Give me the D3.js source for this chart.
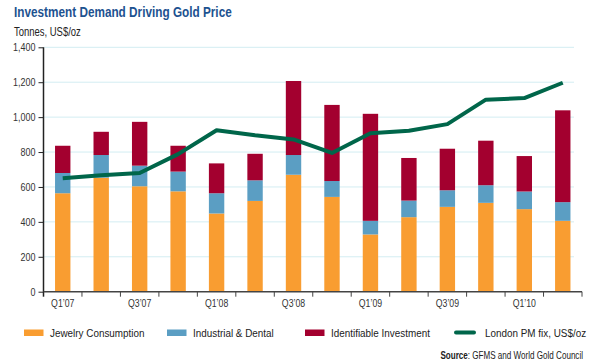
<!DOCTYPE html>
<html>
<head>
<meta charset="utf-8">
<title>Investment Demand Driving Gold Price</title>
<style>
  body { margin: 0; background: #fff; }
  text { font-family: "Liberation Sans Narrow", "Liberation Sans", Arial, sans-serif; }
</style>
</head>
<body>
<svg width="600" height="364"></svg>
<script src="https://d3js.org/d3.v7.min.js"></script>
<script>

// quarters Q1'07 .. Q2'10
var quarters = ["Q1’07", "Q2’07", "Q3’07", "Q4’07", "Q1’08", "Q2’08", "Q3’08",
                "Q4’08", "Q1’09", "Q2’09", "Q3’09", "Q4’09", "Q1’10", "Q2’10"];
var tickLabels = ["Q1’07", "Q3’07", "Q1’08", "Q3’08", "Q1’09", "Q3’09", "Q1’10"];

// tonnes
var jewelry    = [564, 653, 604, 575, 448, 520, 670, 543, 328, 427, 486, 509, 473, 406];
var industrial = [116, 130, 118, 113, 116, 118, 113,  91,  78,  95,  95, 101, 101, 107];
var investment = [156, 133, 251, 148, 171, 152, 424, 436, 613, 244, 238, 255, 203, 526];

// London PM fix, US$/oz
var price = [650, 667, 680, 788, 925, 896, 872, 795, 908, 922, 960, 1100, 1109, 1197];

var yTicks = [0, 200, 400, 600, 800, 1000, 1200, 1400];

var seriesNames = ["Jewelry Consumption", "Industrial & Dental", "Identifiable Investment"];
var colors = ["#f99d31", "#5b9ec3", "#a3002f"];
var lineName = "London PM fix, US$/oz";
var lineColor = "#00664a";

var svg = d3.select("svg");

// no condensed face installed, so squeeze text horizontally
function label(g, x, y, size, sx, anchor, str) {
  return g.append("text")
      .attr("transform", "translate(" + x + "," + y + ") scale(" + sx + ",1)")
      .attr("text-anchor", anchor)
      .attr("font-size", size)
      .attr("fill", "#222")
      .text(str);
}

var x = d3.scaleBand()
    .domain(quarters)
    .range([43.5, 582])
    .paddingInner(0.6)
    .paddingOuter(0.3);

var y = d3.scaleLinear()
    .domain([0, 1400])
    .range([291.7, 47.3]);

// title
label(svg, 14, 17, 15.5, 0.76, "start", "Investment Demand Driving Gold Price")
    .attr("font-weight", "bold")
    .attr("fill", "#1d5290");

label(svg, 14, 35.5, 12, 0.79, "start", "Tonnes, US$/oz");

// gridlines
svg.append("g")
    .selectAll("line")
    .data(yTicks.slice(1))
    .enter().append("line")
      .attr("x1", 43.5)
      .attr("x2", 574)
      .attr("y1", function(d) { return y(d); })
      .attr("y2", function(d) { return y(d); })
      .attr("stroke", "#d3edf2")
      .attr("stroke-width", 1);

// stacked bars
var table = quarters.map(function(q, i) {
  return { q: q, j: jewelry[i], ind: industrial[i], inv: investment[i] };
});
var stack = d3.stack().keys(["j", "ind", "inv"]);

svg.append("g")
  .selectAll("g")
  .data(stack(table))
  .enter().append("g")
    .attr("fill", function(d, i) { return colors[i]; })
  .selectAll("rect")
  .data(function(d) { return d; })
  .enter().append("rect")
    .attr("x", function(d) { return x(d.data.q); })
    .attr("width", x.bandwidth())
    .attr("y", function(d) { return y(d[1]); })
    .attr("height", function(d) { return y(d[0]) - y(d[1]); });

// y axis
var yAxis = svg.append("g")
    .attr("transform", "translate(43.5,0)")
    .call(d3.axisLeft(y).tickValues(yTicks).tickSize(5).tickPadding(3)
      .tickFormat(d3.format(",")));
yAxis.select(".domain").attr("stroke", "#222").attr("stroke-width", 1.5)
    .attr("d", "M0," + y(1400) + "V" + (y(0) + 5));
yAxis.selectAll(".tick line").attr("stroke", "#222");
yAxis.selectAll("text")
    .attr("font-family", null)
    .attr("font-size", 11.5)
    .attr("fill", "#333")
    .attr("x", -8 / 0.78)
    .attr("transform", "scale(0.78,1)");

// x axis: baseline with ticks at band boundaries
var xg = svg.append("g");
xg.append("line")
    .attr("x1", 43.5)
    .attr("x2", 582)
    .attr("y1", y(0))
    .attr("y2", y(0))
    .attr("stroke", "#444")
    .attr("stroke-width", 1.5);
xg.selectAll(".bt")
    .data(quarters)
    .enter().append("line")
      .attr("class", "bt")
      .attr("x1", function(d) { return x(d) - x.step() * x.paddingInner() / 2 + x.step(); })
      .attr("x2", function(d) { return x(d) - x.step() * x.paddingInner() / 2 + x.step(); })
      .attr("y1", y(0))
      .attr("y2", y(0) + 5)
      .attr("stroke", "#444");
tickLabels.forEach(function(d) {
  label(xg, x(d) + x.bandwidth() / 2, 306.5, 11.5, 0.76, "middle", d)
      .attr("fill", "#333");
});

// price line
var line = d3.line()
    .x(function(d, i) { return x(quarters[i]) + x.bandwidth() / 2; })
    .y(function(d) { return y(d); });

svg.append("path")
    .datum(price)
    .attr("fill", "none")
    .attr("stroke", lineColor)
    .attr("stroke-width", 4)
    .attr("stroke-linejoin", "round")
    .attr("d", line);

// legend
var legX = [24, 167, 305];
var leg = svg.append("g");
seriesNames.forEach(function(name, i) {
  leg.append("rect")
      .attr("x", legX[i])
      .attr("y", 329.5)
      .attr("width", 19.5)
      .attr("height", 6.5)
      .attr("fill", colors[i]);
  label(leg, legX[i] + 26, 336.5, 11.5, 0.86, "start", name);
});
leg.append("line")
    .attr("x1", 456)
    .attr("x2", 474)
    .attr("y1", 332.5)
    .attr("y2", 332.5)
    .attr("stroke", lineColor)
    .attr("stroke-width", 4)
    .attr("stroke-linecap", "round");
label(leg, 485, 336.5, 11.5, 0.86, "start", lineName);

// source
var src = label(svg, 583, 359, 10.5, 0.77, "end", "");
src.append("tspan").attr("font-weight", "bold").text("Source");
src.append("tspan").text(": GFMS and World Gold Council");

</script>
</body>
</html>
